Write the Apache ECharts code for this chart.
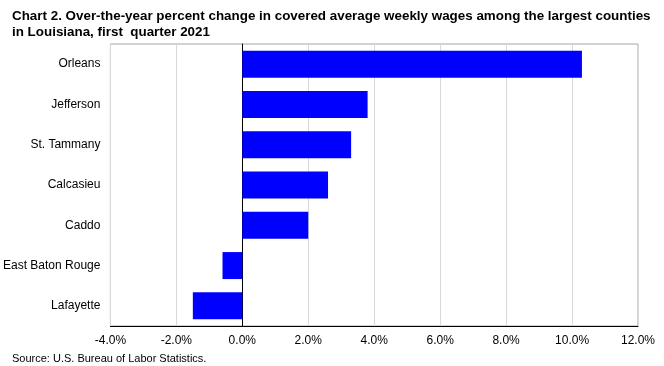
<!DOCTYPE html>
<html><head><meta charset="utf-8">
<script src="https://cdn.jsdelivr.net/npm/echarts@6/dist/echarts.min.js"></script>
<style>html,body{margin:0;padding:0;background:#fff}#c{width:664px;height:366px}</style>
</head><body><div id="c"></div>
<script>
const categories = ["Orleans","Jefferson","St. Tammany","Calcasieu","Caddo","East Baton Rouge","Lafayette"];
const values = [10.3, 3.8, 3.3, 2.6, 2.0, -0.6, -1.5];
const titleText = "Chart 2. Over-the-year percent change in covered average weekly wages among the largest counties\nin Louisiana, first  quarter 2021";
const sourceText = "Source: U.S. Bureau of Labor Statistics.";

const chart = echarts.init(document.getElementById('c'), null, {renderer:'canvas'});
chart.setOption({
  animation:false,
  backgroundColor:'#fff',
  title:[{
    text:titleText, left:12, top:8, padding:0,
    textStyle:{fontFamily:'Liberation Sans', fontSize:13.4, fontWeight:'bold', color:'#000', lineHeight:16}
  },{
    text:sourceText, left:12, top:353, padding:0,
    textStyle:{fontFamily:'Liberation Sans', fontSize:11, fontWeight:'normal', color:'#000'}
  }],
  grid:{left:110, right:26, top:44, bottom:40, show:true, borderColor:'#a6a6a6', borderWidth:1, containLabel:false},
  xAxis:{
    type:'value', min:-4, max:12, interval:2,
    axisLine:{show:true, onZero:false, lineStyle:{color:'#000', width:1}},
    axisTick:{show:false},
    splitLine:{show:true, lineStyle:{color:'#d9d9d9'}},
    axisLabel:{formatter:v=>v.toFixed(1)+'%', fontFamily:'Liberation Sans', fontSize:12, color:'#000', margin:9}
  },
  yAxis:{
    type:'category', data:categories, inverse:true,
    axisLine:{show:true, onZero:true, lineStyle:{color:'#000', width:1}},
    axisTick:{show:false},
    axisLabel:{fontFamily:'Liberation Sans', fontSize:12, color:'#000', margin:10},
    splitLine:{show:false}
  },
  series:[{
    type:'bar', data:values, barCategoryGap:'33%',
    itemStyle:{color:'#0000ff'}
  }]
});
</script></body></html>
